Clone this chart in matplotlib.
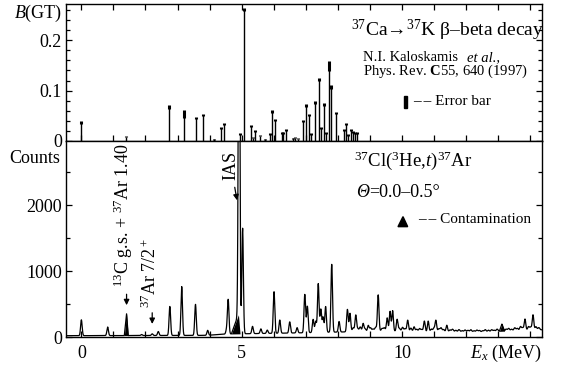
import matplotlib
matplotlib.use("Agg")
import matplotlib.pyplot as plt
import matplotlib.patches as patches
from matplotlib.ticker import MultipleLocator
import numpy as np

plt.rcParams['font.family'] = ['Liberation Serif', 'DejaVu Serif']
plt.rcParams['mathtext.fontset'] = 'custom'
plt.rcParams['mathtext.rm'] = 'Liberation Serif'
plt.rcParams['mathtext.it'] = 'Liberation Serif:italic'
plt.rcParams['mathtext.bf'] = 'Liberation Serif:bold'

# B(GT) from 37Ca beta decay: excitation energy (MeV), value, error
bgt_E = [0.00, 1.38, 2.73, 3.20, 3.57, 3.80, 4.13, 4.36, 4.45, 4.96, 5.08, 5.28, 5.34,
         5.41, 5.57, 5.73, 5.88, 5.95, 6.03, 6.25, 6.30, 6.38, 6.60, 6.68, 6.75, 6.90,
         7.00, 7.11, 7.17, 7.30, 7.42, 7.48, 7.58, 7.64, 7.73, 7.79, 7.94, 8.20, 8.24,
         8.33, 8.41, 8.48, 8.55, 8.59]
bgt_val = [0.036, 0.008, 0.068, 0.054, 0.045, 0.052, 0.003, 0.025, 0.034, 0.014, 0.262,
           0.029, 0.006, 0.019, 0.010, 0.003, 0.014, 0.058, 0.042, 0.016, 0.016, 0.021,
           0.005, 0.006, 0.004, 0.039, 0.071, 0.052, 0.014, 0.076, 0.122, 0.025, 0.073,
           0.016, 0.148, 0.107, 0.055, 0.021, 0.034, 0.011, 0.022, 0.018, 0.016, 0.015]
bgt_err = [0.003, 0.001, 0.004, 0.008, 0.002, 0.002, 0.001, 0.002, 0.002, 0.002, 0.003,
           0.002, 0.001, 0.002, 0.001, 0.001, 0.002, 0.003, 0.002, 0.002, 0.002, 0.002,
           0.001, 0.001, 0.001, 0.002, 0.003, 0.002, 0.002, 0.003, 0.003, 0.002, 0.003,
           0.002, 0.010, 0.004, 0.002, 0.002, 0.002, 0.002, 0.002, 0.002, 0.002, 0.002]

# (3He,t) spectrum: peak positions (MeV) and heights (counts above background)
peak_E = [0.00, 0.82, 1.88, 2.21, 2.40, 2.76, 3.13, 3.56, 3.94, 4.53, 4.58, 4.92, 5.03,
          5.34, 5.60, 5.80, 6.01, 6.19, 6.50, 6.73, 6.97, 7.05, 7.23, 7.31, 7.39, 7.47,
          7.54, 7.62, 7.81, 8.04, 8.30, 8.38, 8.56, 8.79, 8.95, 9.26, 9.54, 9.63, 9.71,
          9.85, 10.18, 10.38, 10.70, 10.82, 11.06, 11.40, 13.84, 14.09]
peak_h = [240, 130, 15, 25, 60, 440, 740, 470, 75, 60, 520, 6000, 1600,
          110, 70, 50, 630, 200, 170, 80, 580, 400, 200, 170, 740, 350,
          230, 390, 1030, 160, 340, 280, 250, 120, 90, 550, 200, 300, 310,
          180, 170, 70, 160, 160, 170, 100, 170, 230]

# small structures on the continuum above 8.5 MeV
ripple_E = [8.48, 8.62, 8.70, 8.85, 9.02, 9.10, 9.18, 9.38, 9.45, 9.92, 10.02, 10.10,
            10.28, 10.46, 10.55, 10.62, 10.92, 11.00, 11.15, 11.22, 11.30, 11.50, 11.58,
            11.68, 11.78, 11.88, 11.97, 12.06, 12.15, 12.25, 12.34, 12.42, 12.52, 12.60,
            12.70, 12.80, 12.88, 12.97, 13.25, 13.33, 13.42, 13.52, 13.60, 13.70, 13.77,
            13.95, 14.02, 14.18, 14.27]
ripple_h = [60, 45, 70, 40, 55, 35, 60, 40, 50, 45, 60, 40, 50, 35, 45, 30, 40, 55, 45,
            60, 35, 30, 40, 25, 35, 20, 30, 25, 35, 20, 30, 25, 20, 35, 25, 30, 20, 35,
            30, 40, 25, 45, 35, 60, 40, 55, 45, 50, 35]

# background level
bg_E = [-0.5, 3.9, 4.5, 6.5, 8.5, 9.5, 11.0, 12.5, 13.5, 14.4]
bg_c = [20, 25, 45, 60, 80, 90, 80, 75, 95, 110]

# contamination peaks (filled): position, height, left/right half widths
cont_E = [1.41, 4.90, 13.12]
cont_h = [330, 290, 110]
cont_lw = [0.07, 0.22, 0.08]
cont_rw = [0.05, 0.05, 0.08]

E = np.linspace(-0.48, 14.37, 4000)
bg = np.interp(E, bg_E, bg_c)
peaks = np.zeros_like(E)
for p, h in zip(peak_E, peak_h):
    peaks += h * np.exp(-0.5 * ((E - p) / 0.024) ** 2)
for p, h in zip(ripple_E, ripple_h):
    peaks += h * np.exp(-0.5 * ((E - p) / 0.028) ** 2)
cont = np.zeros_like(E)
for p, h, wl, wr in zip(cont_E, cont_h, cont_lw, cont_rw):
    left = (E >= p - wl) & (E <= p)
    right = (E > p) & (E <= p + wr)
    cont[left] += h * (E[left] - (p - wl)) / wl
    cont[right] += h * ((p + wr) - E[right]) / wr
counts = bg + peaks + cont

fig = plt.figure(figsize=(5.63, 3.66), dpi=100)
ax1 = fig.add_axes([0.1172, 0.6148, 0.8455, 0.3742])
ax2 = fig.add_axes([0.1172, 0.0792, 0.8455, 0.5356])

xlim = (-0.48, 14.37)
dash2 = '–\u2009– '

# ---- top panel
for e, b, s in zip(bgt_E, bgt_val, bgt_err):
    ax1.plot([e, e], [0, b], color='black', lw=1.0, solid_capstyle='butt')
    ax1.plot([e, e], [b - s, b + s], color='black', lw=2.2, solid_capstyle='butt')
ax1.add_patch(patches.Ellipse((1.38, -0.0095), 0.36, 0.016, facecolor='white',
                              edgecolor='black', lw=1.0, clip_on=False, zorder=5))
ax1.set_xlim(*xlim)
ax1.set_ylim(0, 0.272)
ax1.yaxis.set_minor_locator(MultipleLocator(0.02))
ax1.set_yticks([0, 0.1, 0.2])
ax1.set_yticklabels(['0', '0.1', '0.2'])
ax1.xaxis.set_major_locator(MultipleLocator(5))
ax1.xaxis.set_minor_locator(MultipleLocator(1))
ax1.tick_params(axis='x', labelbottom=False)

ax1.text(0.599, 0.81, r'$^{37}$Ca→$^{37}$K β–beta decay',
         transform=ax1.transAxes, fontsize=14, ha='left', va='center')
ax1.text(0.623, 0.61, 'N.I. Kaloskamis  ', transform=ax1.transAxes,
         fontsize=10.5, ha='left', va='center')
ax1.text(0.842, 0.61, 'et al.,', transform=ax1.transAxes, fontsize=10.5,
         fontstyle='italic', ha='left', va='center')
ax1.text(0.623, 0.505, r'Phys. Rev. $\mathbf{C}$55, 640 (1997)', transform=ax1.transAxes,
         fontsize=10.5, ha='left', va='center')
ax1.add_patch(patches.Rectangle((0.7105, 0.24), 0.0065, 0.088, transform=ax1.transAxes,
                                color='black'))
ax1.text(0.729, 0.29, dash2 + 'Error bar', transform=ax1.transAxes, fontsize=11,
         ha='left', va='center')

# ---- bottom panel
ax2.plot(E, counts, color='black', lw=0.9)
ax2.fill_between(E, bg, bg + cont, color='black', lw=0)
ax2.set_xlim(*xlim)
ax2.set_ylim(0, 2970)
ax2.set_yticks([0, 1000, 2000])
ax2.yaxis.set_minor_locator(MultipleLocator(500))
ax2.xaxis.set_major_locator(MultipleLocator(5))
ax2.xaxis.set_minor_locator(MultipleLocator(1))

ax2.text(0.605, 0.90, r'$^{37}$Cl($^3$He,$t$)$^{37}$Ar', transform=ax2.transAxes,
         fontsize=13.5, ha='left', va='center')
ax2.text(0.609, 0.735, 'Θ', transform=ax2.transAxes, fontsize=13,
         fontstyle='italic', ha='left', va='center')
ax2.text(0.637, 0.735, '=0.0–0.5°', transform=ax2.transAxes, fontsize=13,
         ha='left', va='center')
ax2.add_patch(patches.Polygon([[0.6975, 0.563], [0.7178, 0.563], [0.708, 0.614]],
                              closed=True, transform=ax2.transAxes, color='black'))
ax2.text(0.739, 0.602, dash2 + 'Contamination', transform=ax2.transAxes, fontsize=11,
         ha='left', va='center')

ax2.text(1.31, 757, r'$^{13}$C g.s. + $^{37}$Ar 1.40', rotation=90, fontsize=13,
         ha='center', va='bottom')
ax2.annotate('', xy=(1.41, 440), xytext=(1.41, 690),
             arrowprops=dict(arrowstyle='-|>', color='black', lw=0.9,
                             mutation_scale=8))
ax2.text(2.16, 435, r'$^{37}$Ar 7/2$^+$', rotation=90, fontsize=13,
         ha='center', va='bottom')
ax2.annotate('', xy=(2.21, 156), xytext=(2.21, 409),
             arrowprops=dict(arrowstyle='-|>', color='black', lw=0.9,
                             mutation_scale=8))
ax2.text(4.65, 2379, 'IAS', rotation=90, fontsize=13, ha='center', va='bottom')
ax2.annotate('', xy=(4.87, 2030), xytext=(4.77, 2310),
             arrowprops=dict(arrowstyle='-|>', color='black', lw=0.9,
                             mutation_scale=8))

for ax in (ax1, ax2):
    for sp in ax.spines.values():
        sp.set_linewidth(1.0)
    ax.tick_params(which='both', direction='in', top=True, right=True,
                   labelsize=13, width=0.9, pad=3)
    ax.tick_params(which='major', length=4.5)
    ax.tick_params(which='minor', length=3)
ax2.tick_params(axis='x', which='both', top=False, pad=6)
ax2.tick_params(axis='x', which='minor', length=4)
ax1.tick_params(axis='x', which='minor', length=4)

fig.text(0.024, 0.964, r'$\mathit{B}$(GT)', fontsize=13, ha='left', va='center')
fig.text(0.016, 0.568, 'Counts', fontsize=13, ha='left', va='center')
fig.text(0.963, 0.035, r'$\mathit{E_x}$ (MeV)', fontsize=13, ha='right', va='center')

fig.savefig('out.png', dpi=100)
